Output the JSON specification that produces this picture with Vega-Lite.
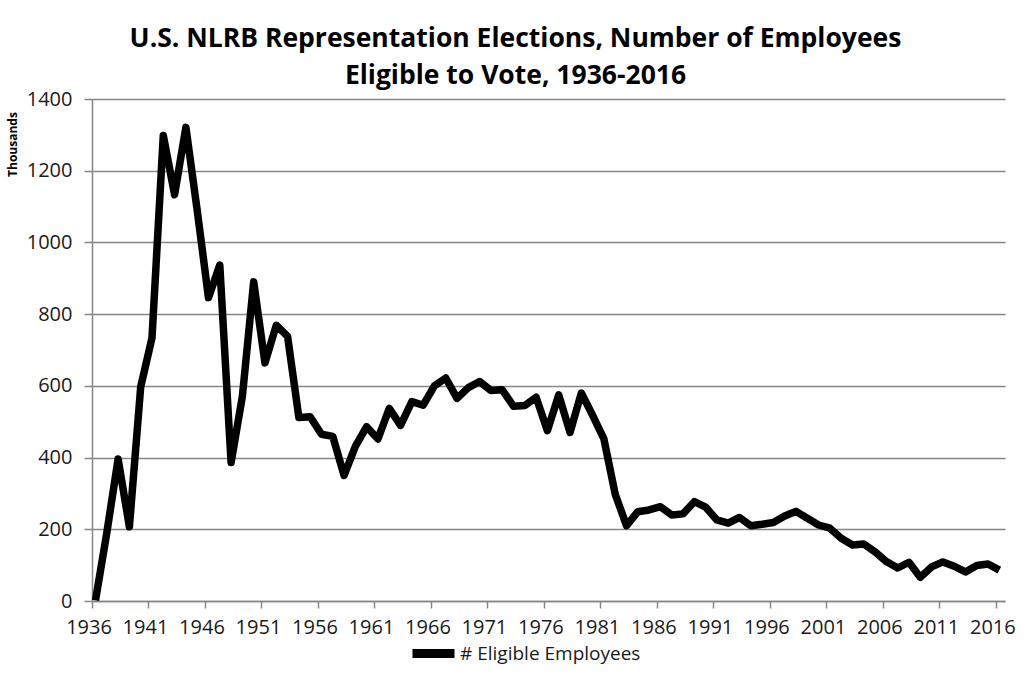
{
  "$schema": "https://vega.github.io/schema/vega-lite/v6.json",
  "width": 913,
  "height": 502,
  "autosize": {"type": "none"},
  "padding": {"left": 92, "top": 99, "right": 25, "bottom": 80},
  "background": "white",
  "title": {
    "text": ["U.S. NLRB Representation Elections, Number of Employees", "Eligible to Vote, 1936-2016"],
    "font": "Open Sans",
    "fontSize": 26.5,
    "fontWeight": "bold",
    "color": "#000000",
    "lineHeight": 37,
    "anchor": "middle",
    "dx": -33,
    "offset": 0
  },
  "data": {
    "values": [
      {"year": 1936, "value": 2, "series": "# Eligible Employees"},
      {"year": 1937, "value": 190, "series": "# Eligible Employees"},
      {"year": 1938, "value": 396, "series": "# Eligible Employees"},
      {"year": 1939, "value": 207, "series": "# Eligible Employees"},
      {"year": 1940, "value": 597, "series": "# Eligible Employees"},
      {"year": 1941, "value": 734, "series": "# Eligible Employees"},
      {"year": 1942, "value": 1298, "series": "# Eligible Employees"},
      {"year": 1943, "value": 1133, "series": "# Eligible Employees"},
      {"year": 1944, "value": 1321, "series": "# Eligible Employees"},
      {"year": 1945, "value": 1090, "series": "# Eligible Employees"},
      {"year": 1946, "value": 846, "series": "# Eligible Employees"},
      {"year": 1947, "value": 937, "series": "# Eligible Employees"},
      {"year": 1948, "value": 386, "series": "# Eligible Employees"},
      {"year": 1949, "value": 571, "series": "# Eligible Employees"},
      {"year": 1950, "value": 890, "series": "# Eligible Employees"},
      {"year": 1951, "value": 664, "series": "# Eligible Employees"},
      {"year": 1952, "value": 769, "series": "# Eligible Employees"},
      {"year": 1953, "value": 738, "series": "# Eligible Employees"},
      {"year": 1954, "value": 512, "series": "# Eligible Employees"},
      {"year": 1955, "value": 514, "series": "# Eligible Employees"},
      {"year": 1956, "value": 465, "series": "# Eligible Employees"},
      {"year": 1957, "value": 459, "series": "# Eligible Employees"},
      {"year": 1958, "value": 350, "series": "# Eligible Employees"},
      {"year": 1959, "value": 431, "series": "# Eligible Employees"},
      {"year": 1960, "value": 486, "series": "# Eligible Employees"},
      {"year": 1961, "value": 452, "series": "# Eligible Employees"},
      {"year": 1962, "value": 537, "series": "# Eligible Employees"},
      {"year": 1963, "value": 490, "series": "# Eligible Employees"},
      {"year": 1964, "value": 556, "series": "# Eligible Employees"},
      {"year": 1965, "value": 546, "series": "# Eligible Employees"},
      {"year": 1966, "value": 600, "series": "# Eligible Employees"},
      {"year": 1967, "value": 622, "series": "# Eligible Employees"},
      {"year": 1968, "value": 565, "series": "# Eligible Employees"},
      {"year": 1969, "value": 595, "series": "# Eligible Employees"},
      {"year": 1970, "value": 612, "series": "# Eligible Employees"},
      {"year": 1971, "value": 587, "series": "# Eligible Employees"},
      {"year": 1972, "value": 589, "series": "# Eligible Employees"},
      {"year": 1973, "value": 543, "series": "# Eligible Employees"},
      {"year": 1974, "value": 545, "series": "# Eligible Employees"},
      {"year": 1975, "value": 568, "series": "# Eligible Employees"},
      {"year": 1976, "value": 475, "series": "# Eligible Employees"},
      {"year": 1977, "value": 575, "series": "# Eligible Employees"},
      {"year": 1978, "value": 470, "series": "# Eligible Employees"},
      {"year": 1979, "value": 580, "series": "# Eligible Employees"},
      {"year": 1980, "value": 518, "series": "# Eligible Employees"},
      {"year": 1981, "value": 452, "series": "# Eligible Employees"},
      {"year": 1982, "value": 298, "series": "# Eligible Employees"},
      {"year": 1983, "value": 210, "series": "# Eligible Employees"},
      {"year": 1984, "value": 249, "series": "# Eligible Employees"},
      {"year": 1985, "value": 254, "series": "# Eligible Employees"},
      {"year": 1986, "value": 263, "series": "# Eligible Employees"},
      {"year": 1987, "value": 240, "series": "# Eligible Employees"},
      {"year": 1988, "value": 243, "series": "# Eligible Employees"},
      {"year": 1989, "value": 277, "series": "# Eligible Employees"},
      {"year": 1990, "value": 262, "series": "# Eligible Employees"},
      {"year": 1991, "value": 226, "series": "# Eligible Employees"},
      {"year": 1992, "value": 217, "series": "# Eligible Employees"},
      {"year": 1993, "value": 233, "series": "# Eligible Employees"},
      {"year": 1994, "value": 210, "series": "# Eligible Employees"},
      {"year": 1995, "value": 214, "series": "# Eligible Employees"},
      {"year": 1996, "value": 219, "series": "# Eligible Employees"},
      {"year": 1997, "value": 237, "series": "# Eligible Employees"},
      {"year": 1998, "value": 250, "series": "# Eligible Employees"},
      {"year": 1999, "value": 231, "series": "# Eligible Employees"},
      {"year": 2000, "value": 212, "series": "# Eligible Employees"},
      {"year": 2001, "value": 203, "series": "# Eligible Employees"},
      {"year": 2002, "value": 175, "series": "# Eligible Employees"},
      {"year": 2003, "value": 156, "series": "# Eligible Employees"},
      {"year": 2004, "value": 159, "series": "# Eligible Employees"},
      {"year": 2005, "value": 137, "series": "# Eligible Employees"},
      {"year": 2006, "value": 110, "series": "# Eligible Employees"},
      {"year": 2007, "value": 92, "series": "# Eligible Employees"},
      {"year": 2008, "value": 108, "series": "# Eligible Employees"},
      {"year": 2009, "value": 66, "series": "# Eligible Employees"},
      {"year": 2010, "value": 95, "series": "# Eligible Employees"},
      {"year": 2011, "value": 109, "series": "# Eligible Employees"},
      {"year": 2012, "value": 97, "series": "# Eligible Employees"},
      {"year": 2013, "value": 81, "series": "# Eligible Employees"},
      {"year": 2014, "value": 99, "series": "# Eligible Employees"},
      {"year": 2015, "value": 103, "series": "# Eligible Employees"},
      {"year": 2016, "value": 86, "series": "# Eligible Employees"}
    ]
  },
  "mark": {"type": "line", "strokeWidth": 7.5, "strokeJoin": "round", "strokeCap": "butt", "clip": false},
  "encoding": {
    "x": {
      "field": "year",
      "type": "quantitative",
      "scale": {"domain": [1935.69, 2016.5], "nice": false, "zero": false},
      "axis": {
        "values": [1936, 1941, 1946, 1951, 1956, 1961, 1966, 1971, 1976, 1981, 1986, 1991, 1996, 2001, 2006, 2011, 2016],
        "format": "d",
        "title": null,
        "grid": false,
        "domainColor": "#868686",
        "domainWidth": 1.5,
        "tickColor": "#868686",
        "tickWidth": 1.5,
        "tickSize": 7,
        "tickOffset": -3.5,
        "labelOffset": -3.5,
        "labelPadding": 9,
        "labelFont": "Open Sans",
        "labelFontSize": 20,
        "labelColor": "#1a1a1a",
        "labelFlush": false,
        "labelOverlap": false
      }
    },
    "y": {
      "field": "value",
      "type": "quantitative",
      "scale": {"domain": [0, 1400], "nice": false},
      "axis": {
        "values": [0, 200, 400, 600, 800, 1000, 1200, 1400],
        "format": "d",
        "title": "Thousands",
        "titleFont": "Open Sans",
        "titleFontSize": 12,
        "titleFontWeight": "bold",
        "titleColor": "#000000",
        "titleAngle": -90,
        "titleAlign": "center",
        "titleBaseline": "middle",
        "titleX": -80,
        "titleY": 45,
        "grid": true,
        "gridColor": "#868686",
        "gridWidth": 1.5,
        "domainColor": "#868686",
        "domainWidth": 1.5,
        "tickColor": "#868686",
        "tickWidth": 1.5,
        "tickSize": 8,
        "labelPadding": 12,
        "labelFont": "Open Sans",
        "labelFontSize": 20,
        "labelColor": "#1a1a1a",
        "labelFlush": false
      }
    },
    "color": {
      "field": "series",
      "type": "nominal",
      "scale": {"range": ["#000000"]},
      "legend": {
        "title": null,
        "orient": "none",
        "legendX": 316,
        "legendY": 529,
        "symbolType": "stroke",
        "symbolSize": 1764,
        "symbolStrokeWidth": 9,
        "symbolStrokeColor": "#000000",
        "labelFont": "Open Sans",
        "labelFontSize": 19,
        "labelColor": "#1a1a1a",
        "labelLimit": 0,
        "labelOffset": 1,
        "padding": 0
      }
    }
  },
  "config": {
    "view": {"stroke": null}
  }
}
